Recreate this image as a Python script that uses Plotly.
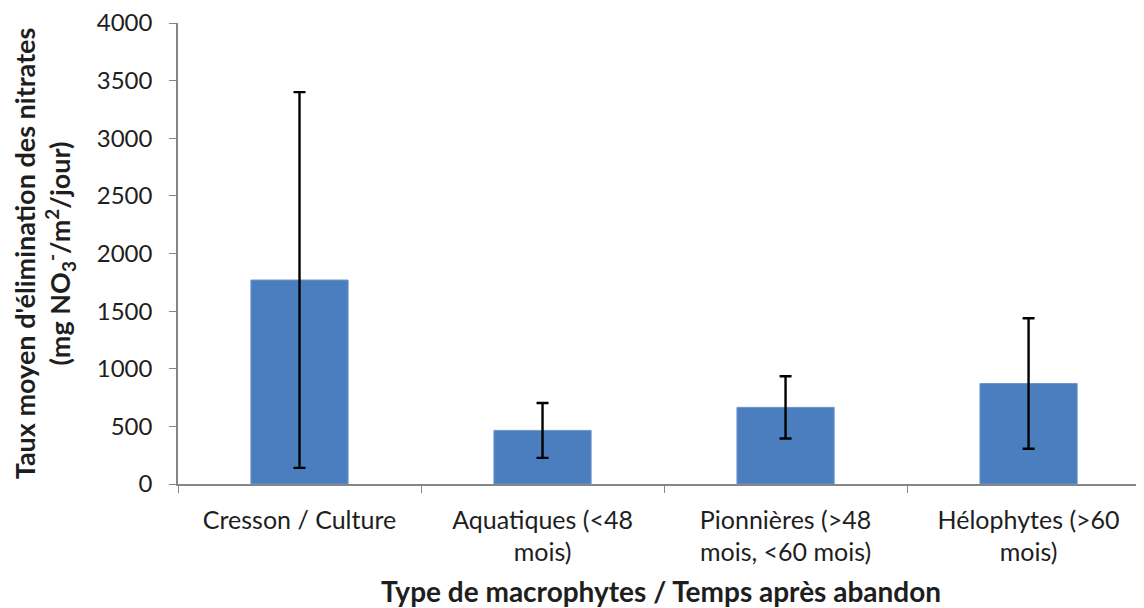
import plotly.graph_objects as go

categories = ["Cresson / Culture", "Aquatiques (<48<br>mois)", "Pionnières (>48<br>mois, <60 mois)", "Hélophytes (>60<br>mois)"]
means = [1770, 465, 665, 872]
errors = [1630, 238, 270, 566]
y_ticks = [0, 500, 1000, 1500, 2000, 2500, 3000, 3500, 4000]

FONT = "Lato, 'Open Sans', sans-serif"

fig = go.Figure()
fig.add_trace(go.Bar(
    x=categories, y=means,
    marker=dict(color="#4A7EBF", line=dict(color="#6D97CC", width=1)),
    width=0.4,
    error_y=dict(type="data", array=errors, visible=True, color="black", thickness=2.4, width=6),
))

# page body has an 8px margin: the figure is placed at (8, 8)
fig.update_layout(
    width=1136, height=600,
    margin=dict(l=170, r=0, t=15, b=124),
    plot_bgcolor="white", paper_bgcolor="white",
    showlegend=False,
    font=dict(family=FONT, size=24, color="#1E1E1E"),
    xaxis=dict(
        range=[-0.5, 3.475],
        automargin=False,
        showline=True, linecolor="#868686", linewidth=1.5,
        ticks="outside", tickson="boundaries", ticklen=7, tickcolor="#868686",
        tickfont=dict(size=25),
        ticklabelstandoff=13,
        title=dict(text="<b>Type de macrophytes / Temps après abandon</b>", font=dict(size=28), standoff=24),
    ),
    yaxis=dict(
        range=[0, 4000], tickvals=y_ticks,
        showline=True, linecolor="#868686", linewidth=1.5,
        ticks="outside", ticklen=7, tickcolor="#868686",
        showgrid=False, zeroline=False,
        tickfont=dict(size=24),
        ticklabelstandoff=12,
        ticklabeloverflow="allow",
        title=dict(text="<b>Taux moyen d'élimination des nitrates<br>(mg NO<sub>3</sub><sup>-</sup>/m<sup>2</sup>/jour)</b>",
                   font=dict(size=27), standoff=18),
    ),
)

fig.write_html("out.html")
